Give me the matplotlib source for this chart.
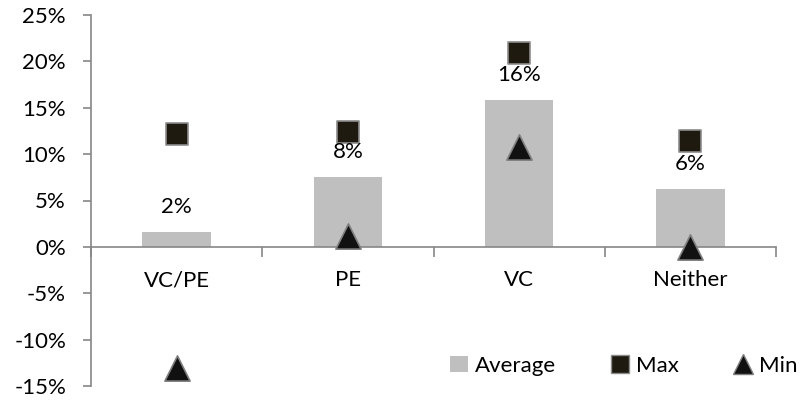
import matplotlib
matplotlib.use("Agg")
import matplotlib.pyplot as plt
from matplotlib.patches import Patch
from matplotlib.lines import Line2D
from matplotlib.ticker import FuncFormatter, MultipleLocator, FixedLocator

categories = ["VC/PE", "PE", "VC", "Neither"]
average = [1.6, 7.5, 15.8, 6.2]
max_vals = [12.2, 12.4, 20.9, 11.4]
min_vals = [-13.1, 1.2, 10.8, 0.0]
avg_labels = ["2%", "8%", "16%", "6%"]

plt.rcParams["font.family"] = ["Lato", "DejaVu Sans"]
FS = 16

fig = plt.figure(figsize=(8.04, 4.0), dpi=100)
ax = fig.add_axes([0.1132, 0.035, 0.852, 0.9275])

x = list(range(len(categories)))
ax.bar(x, average, width=0.4, color="#BFBFBF", zorder=2)
ax.scatter(x, max_vals, marker="s", s=260, color="#1F1A10", edgecolor="#8C8C8C",
           linewidth=1.2, zorder=4)
ax.scatter(x, min_vals, marker="^", s=330, color="#111111", edgecolor="#7F7F7F",
           linewidth=1.2, zorder=4)

# value labels above the average bars
for xi, v, lab in zip(x, average, avg_labels):
    ax.annotate(lab, (xi, v), xytext=(0, 25), textcoords="offset pixels",
                ha="center", va="center", fontsize=FS, color="black", zorder=5)

ax.set_xlim(-0.5, len(categories) - 0.5)
ax.set_ylim(-15, 25)
ax.yaxis.set_major_locator(MultipleLocator(5))
ax.yaxis.set_major_formatter(FuncFormatter(lambda v, p: f"{v:.0f}%"))

ax.set_xticks(x)
ax.set_xticklabels(categories)
ax.xaxis.set_minor_locator(FixedLocator([i - 0.5 for i in range(len(categories) + 1)]))
ax.tick_params(axis="x", which="major", length=0, pad=17, labelsize=FS)
ax.tick_params(axis="x", which="minor", length=7, direction="out", color="#868686", width=1.2)
ax.tick_params(axis="y", length=6, direction="out", color="#868686", width=1.2,
               labelsize=FS, pad=12)

for side in ("top", "right"):
    ax.spines[side].set_visible(False)
ax.spines["bottom"].set_position(("data", 0))
for side in ("left", "bottom"):
    ax.spines[side].set_color("#868686")
    ax.spines[side].set_linewidth(1.2)

handles = [
    Patch(facecolor="#BFBFBF", edgecolor="none", label="Average"),
    Line2D([], [], marker="s", linestyle="none", markersize=13, markerfacecolor="#1F1A10",
           markeredgecolor="#8C8C8C", label="Max"),
    Line2D([], [], marker="^", linestyle="none", markersize=14, markerfacecolor="#111111",
           markeredgecolor="#7F7F7F", label="Min"),
]
fig.legend(handles=handles, loc="center left", bbox_to_anchor=(0.549, 0.085), ncol=3,
           frameon=False, fontsize=FS, handlelength=0.8, handletextpad=0.3,
           columnspacing=2.5, borderaxespad=0)

fig.savefig("out.png", dpi=100)
